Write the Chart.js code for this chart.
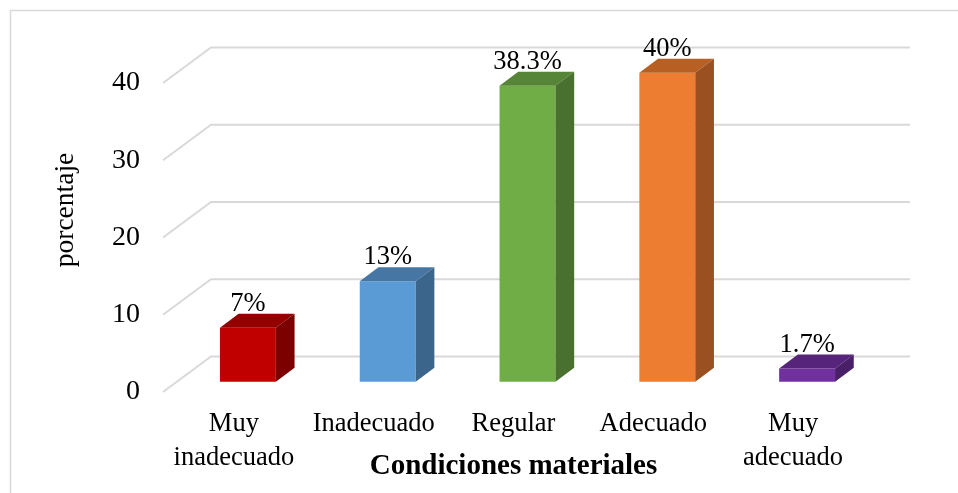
<!DOCTYPE html>
<html>
<head>
<meta charset="utf-8">
<style>
  html, body { margin: 0; padding: 0; background: #ffffff; }
  #wrap { width: 958px; height: 493px; position: relative; }
</style>
<script src="https://cdn.jsdelivr.net/npm/chart.js@4.4.1/dist/chart.umd.min.js"></script>
</head>
<body>
<div id="wrap"><canvas id="chart" width="958" height="493"></canvas></div>
<script>
// Data
const categories = [['Muy', 'inadecuado'], 'Inadecuado', 'Regular', 'Adecuado', ['Muy', 'adecuado']];
const porcentajes = [7, 13, 38.3, 40, 1.7];
const yTicks = [0, 10, 20, 30, 40];

// Face colours of each 3D column: front, top, right side
const frontColors = ['#C00000', '#5B9BD5', '#70AD47', '#ED7D31', '#7030A0'];
const topColors   = ['#930000', '#4677A4', '#568537', '#B85F24', '#56257B'];
const sideColors  = ['#7C0000', '#3B658A', '#49702E', '#9A5020', '#491F68'];

const FONT = "'Liberation Serif', 'Times New Roman', serif";

// 3D geometry (pixels): floor front edge -> back wall, floor front -> column front face, column depth
const WALL = { dx: 47, dy: -35.5 };
const BAR_SHIFT = { dx: 14, dy: -10.3 };
const BAR_DEPTH = { dx: 18.7, dy: -14 };

const threeD = {
  id: 'threeD',
  beforeDraw(chart) {
    const { ctx, chartArea: a, scales: { y } } = chart;
    ctx.save();
    // outer frame
    ctx.strokeStyle = '#d9d9d9';
    ctx.lineWidth = 1.5;
    ctx.strokeRect(10.5, 10.5, 2000, 2000);
    // side-wall diagonals and back-wall gridlines
    ctx.lineWidth = 2;
    ctx.strokeStyle = '#d9d9d9';
    yTicks.forEach(v => {
      const py = y.getPixelForValue(v);
      ctx.beginPath();
      ctx.moveTo(a.left - 1, py);
      ctx.lineTo(a.left + WALL.dx, py + WALL.dy);
      ctx.lineTo(a.right + WALL.dx, py + WALL.dy);
      ctx.stroke();
    });
    ctx.restore();
  },
  beforeDatasetsDraw(chart) {
    chart.ctx.save();
    chart.ctx.translate(BAR_SHIFT.dx, BAR_SHIFT.dy);
  },
  afterDatasetsDraw(chart) {
    const ctx = chart.ctx;
    const meta = chart.getDatasetMeta(0);
    const { dx, dy } = BAR_DEPTH;
    meta.data.forEach((bar, i) => {
      const { x, y, base, width } = bar.getProps(['x', 'y', 'base', 'width'], true);
      const l = x - width / 2, r = x + width / 2;
      // top face
      ctx.fillStyle = topColors[i];
      ctx.beginPath();
      ctx.moveTo(l, y);
      ctx.lineTo(l + dx, y + dy);
      ctx.lineTo(r + dx, y + dy);
      ctx.lineTo(r, y);
      ctx.closePath();
      ctx.fill();
      // right side face
      ctx.fillStyle = sideColors[i];
      ctx.beginPath();
      ctx.moveTo(r, y);
      ctx.lineTo(r + dx, y + dy);
      ctx.lineTo(r + dx, base + dy);
      ctx.lineTo(r, base);
      ctx.closePath();
      ctx.fill();
      // value label
      ctx.fillStyle = '#000000';
      ctx.font = '26.5px ' + FONT;
      ctx.textAlign = 'center';
      ctx.textBaseline = 'alphabetic';
      ctx.fillText(porcentajes[i] + '%', x, y - 17);
    });
    ctx.restore();
  },
  afterDraw(chart) {
    const ctx = chart.ctx;
    ctx.save();
    ctx.translate(66, 210);
    ctx.rotate(-Math.PI / 2);
    ctx.fillStyle = '#000000';
    ctx.font = '27.5px ' + FONT;
    ctx.textAlign = 'center';
    ctx.textBaseline = 'middle';
    ctx.fillText('porcentaje', 0, 0);
    ctx.restore();
  }
};

new Chart(document.getElementById('chart'), {
  type: 'bar',
  data: {
    labels: categories,
    datasets: [{
      data: porcentajes,
      backgroundColor: frontColors,
      borderWidth: 0,
      barPercentage: 0.4,
      categoryPercentage: 1,
      clip: false
    }]
  },
  options: {
    responsive: false,
    animation: false,
    devicePixelRatio: 1,
    layout: { padding: { top: 83, right: 95, left: 0, bottom: 0 } },
    plugins: {
      legend: { display: false },
      tooltip: { enabled: false }
    },
    scales: {
      x: {
        grid: { display: false, drawTicks: false },
        border: { display: false },
        ticks: {
          color: '#000000',
          font: { family: FONT, size: 26.5, lineHeight: 1.28 },
          padding: 15.5,
          maxRotation: 0,
          autoSkip: false
        },
        title: {
          display: true,
          text: 'Condiciones materiales',
          color: '#000000',
          font: { family: FONT, size: 29, weight: 'bold', lineHeight: 1.2 },
          padding: { top: 0, bottom: 8.6 }
        },
        afterFit(scale) { scale.height = 101; }
      },
      y: {
        min: 0,
        max: 40,
        grid: { display: false, drawTicks: false },
        border: { display: false },
        ticks: {
          color: '#000000',
          font: { family: FONT, size: 28 },
          padding: 24
        },
        afterBuildTicks(scale) { scale.ticks = yTicks.map(v => ({ value: v })); },
        afterFit(scale) { scale.width = 164; }
      }
    }
  },
  plugins: [threeD]
});
</script>
</body>
</html>
